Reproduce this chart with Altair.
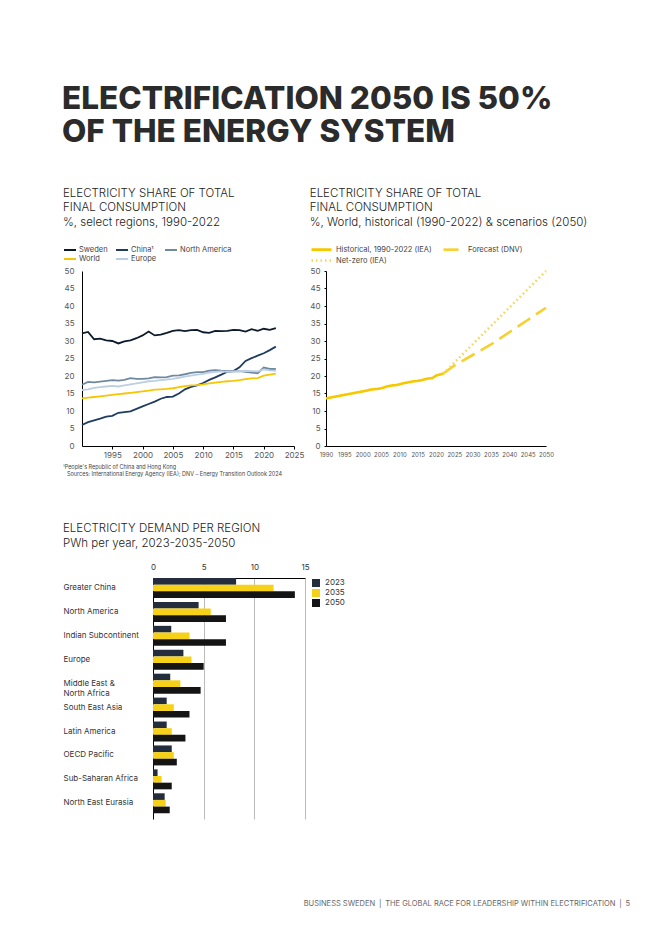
import altair as alt
import pandas as pd

FONT = "Inter"

# ---------------- data ----------------
years = list(range(1990, 2023))
sweden = [32.2, 32.6, 30.5, 30.7, 30.2, 30.0, 29.3, 29.9, 30.2, 30.8, 31.6, 32.7, 31.6, 31.8, 32.3, 32.9, 33.1,
          32.8, 33.1, 33.2, 32.5, 32.3, 32.9, 32.8, 32.9, 33.2, 33.1, 32.7, 33.4, 32.9, 33.5, 33.2, 33.7]
china = [6.0, 6.8, 7.3, 7.8, 8.4, 8.6, 9.5, 9.7, 9.9, 10.6, 11.3, 12.0, 12.7, 13.5, 14.0, 14.1, 15.0,
         16.2, 16.9, 17.3, 18.0, 18.9, 19.6, 20.4, 21.2, 21.4, 22.5, 24.3, 25.1, 25.8, 26.5, 27.4, 28.4]
north_america = [17.5, 18.3, 18.2, 18.4, 18.6, 18.8, 18.7, 18.9, 19.4, 19.2, 19.2, 19.3, 19.7, 19.6, 19.7, 20.1, 20.2,
                 20.5, 20.9, 21.1, 21.1, 21.5, 21.7, 21.5, 21.4, 21.3, 21.4, 21.2, 21.0, 20.8, 22.4, 22.0, 22.0]
europe = [16.0, 16.2, 16.6, 16.8, 17.0, 17.2, 17.0, 17.3, 17.6, 17.9, 18.2, 18.5, 18.6, 18.8, 19.0, 19.2, 19.5,
          19.8, 20.1, 20.4, 20.6, 21.0, 21.2, 21.3, 21.2, 21.3, 21.4, 21.5, 21.4, 21.3, 21.9, 21.6, 21.5]
world = [13.6, 13.8, 14.0, 14.2, 14.4, 14.6, 14.8, 15.0, 15.2, 15.4, 15.6, 15.8, 16.1, 16.2, 16.3, 16.5, 16.8,
         17.1, 17.3, 17.4, 17.6, 17.9, 18.1, 18.3, 18.5, 18.6, 18.8, 19.1, 19.3, 19.4, 20.1, 20.4, 20.7]

left_series = ["Sweden", "China¹", "North America", "World", "Europe"]
left_colors = ["#0c1a2b", "#1e3b60", "#7089a2", "#f6c600", "#bccfe2"]

forecast_years = [2022, 2025, 2030, 2035, 2040, 2045, 2050]
forecast_dnv = [20.7, 23.0, 26.0, 29.0, 32.5, 36.0, 39.5]
netzero_years = [2022, 2050]
netzero_iea = [20.7, 50.0]
right_series = ["Historical, 1990-2022 (IEA)", "Forecast (DNV)", "Net-zero (IEA)"]
right_colors = ["#f6c800", "#f7d02e", "#f7d54e"]

regions = ["Greater China", "North America", "Indian Subcontinent", "Europe", "Middle East & North Africa",
           "South East Asia", "Latin America", "OECD Pacific", "Sub-Saharan Africa", "North East Eurasia"]
demand_2023 = [8.2, 4.5, 1.8, 3.0, 1.7, 1.35, 1.35, 1.85, 0.45, 1.15]
demand_2035 = [11.9, 5.7, 3.6, 3.8, 2.7, 2.05, 1.85, 2.05, 0.85, 1.25]
demand_2050 = [14.0, 7.2, 7.2, 5.0, 4.7, 3.6, 3.2, 2.35, 1.85, 1.65]
bar_years = ["2023", "2035", "2050"]
bar_colors = ["#232d3e", "#f7d117", "#141414"]

main_title = ["ELECTRIFICATION 2050 IS 50%", "OF THE ENERGY SYSTEM"]
left_title = ["ELECTRICITY SHARE OF TOTAL", "FINAL CONSUMPTION", "%, select regions, 1990-2022"]
right_title = ["ELECTRICITY SHARE OF TOTAL", "FINAL CONSUMPTION",
               "%, World, historical (1990-2022) & scenarios (2050)"]
bar_title = ["ELECTRICITY DEMAND PER REGION", "PWh per year, 2023-2035-2050"]
footnote_1 = "¹People's Republic of China and Hong Kong"
footnote_2 = "Sources: International Energy Agency (IEA); DNV – Energy Transition Outlook 2024"
footer = "BUSINESS SWEDEN\u2002|\u2002THE GLOBAL RACE FOR LEADERSHIP WITHIN ELECTRIFICATION\u2002|\u20025"

# ---------------- tables ----------------
left_df = pd.DataFrame({
    "year": years * 5,
    "value": sweden + china + north_america + world + europe,
    "series": sum([[s] * len(years) for s in left_series], []),
})
right_df = pd.concat([
    pd.DataFrame({"year": years, "value": world, "series": right_series[0]}),
    pd.DataFrame({"year": forecast_years, "value": forecast_dnv, "series": right_series[1]}),
    pd.DataFrame({"year": netzero_years, "value": netzero_iea, "series": right_series[2]}),
])
bar_df = pd.DataFrame({
    "region": regions * 3,
    "year": sum([[y] * len(regions) for y in bar_years], []),
    "value": demand_2023 + demand_2035 + demand_2050,
})

TW = 175  # plot height of line charts

def title_params(lines, offset):
    return alt.TitleParams(text=lines, anchor="start", font=FONT, fontSize=11.5, fontWeight=300,
                           color="#222222", lineHeight=14.5, offset=offset)

# ---------------- left line chart ----------------
left_lines = alt.Chart(left_df).mark_line(strokeWidth=1.8).encode(
    x=alt.X("year:Q", scale=alt.Scale(domain=[1990, 2025], nice=False, zero=False),
            axis=alt.Axis(values=list(range(1995, 2026, 5)), format="d", title=None, grid=False,
                          domainColor="#000", tickColor="#000", tickSize=3, labelFontSize=8,
                          labelColor="#555", labelPadding=2, labelFont=FONT, labelOverlap=False,
                          labelFlush=False)),
    y=alt.Y("value:Q", scale=alt.Scale(domain=[0, 50], nice=False),
            axis=alt.Axis(values=list(range(0, 51, 5)), title=None, grid=False, ticks=False,
                          domainColor="#000", labelPadding=8, labelFontSize=8, labelColor="#555",
                          labelFont=FONT)),
    color=alt.Color("series:N", sort=left_series,
                    scale=alt.Scale(domain=left_series, range=left_colors),
                    legend=alt.Legend(title=None, orient="none", legendX=-19, legendY=-26, columns=3,
                                      direction="horizontal",
                                      symbolType="M-1,0H2", symbolSize=64, symbolStrokeWidth=2,
                                      labelFontSize=7.5, labelColor="#444", labelFont=FONT,
                                      columnPadding=4, rowPadding=0, labelOffset=6)),
)
fn1 = alt.Chart(pd.DataFrame({"t": [footnote_1]})).mark_text(
    align="left", baseline="middle", fontSize=5.5, color="#444", font=FONT
).encode(x=alt.value(-19), y=alt.value(TW + 21), text="t:N")
fn2 = alt.Chart(pd.DataFrame({"t": [footnote_2]})).mark_text(
    align="left", baseline="middle", fontSize=5.5, color="#444", font=FONT
).encode(x=alt.value(-15), y=alt.value(TW + 28), text="t:N")

left_chart = alt.layer(left_lines, fn1, fn2).properties(
    width=212, height=TW, title=title_params(left_title, 17))

# ---------------- right line chart ----------------
right_chart = alt.Chart(right_df).mark_line().encode(
    x=alt.X("year:Q", scale=alt.Scale(domain=[1990, 2050], nice=False, zero=False),
            axis=alt.Axis(values=list(range(1990, 2051, 5)), format="d", title=None, grid=False,
                          domainColor="#000", ticks=False, labelFontSize=6, labelColor="#555",
                          labelPadding=5, labelFont=FONT, labelOverlap=False, labelFlush=False)),
    y=alt.Y("value:Q", scale=alt.Scale(domain=[0, 50], nice=False),
            axis=alt.Axis(values=list(range(0, 51, 5)), title=None, grid=False, tickSize=2,
                          tickColor="#000", domainColor="#000", labelPadding=4, labelFontSize=8,
                          labelColor="#555", labelFont=FONT)),
    color=alt.Color("series:N", sort=right_series,
                    scale=alt.Scale(domain=right_series, range=right_colors),
                    legend=alt.Legend(title=None, orient="none", legendX=-16, legendY=-27, columns=2,
                                      direction="horizontal",
                                      symbolType="M-1,0H4", symbolSize=64, labelFontSize=7.5,
                                      labelColor="#444", labelFont=FONT, columnPadding=6,
                                      rowPadding=0, labelOffset=15)),
    strokeDash=alt.StrokeDash("series:N", sort=right_series,
                              scale=alt.Scale(domain=right_series, range=[[1, 0], [15, 7], [1.5, 3]])),
    strokeWidth=alt.StrokeWidth("series:N", sort=right_series,
                                scale=alt.Scale(domain=right_series, range=[2.6, 2.6, 1.6])),
).properties(width=220, height=TW, title=title_params(right_title, 16))

# ---------------- bar chart ----------------
bar_main = alt.Chart(bar_df).mark_bar().encode(
    y=alt.Y("region:N", sort=regions,
            scale=alt.Scale(paddingInner=0.165, paddingOuter=0.12, align=0),
            axis=alt.Axis(title=None, labelAlign="left", labelPadding=90, ticks=False, domainColor="#000",
                          labelFontSize=8, labelColor="#333", labelFont=FONT, labelLimit=200,
                          labelExpr="datum.label == 'Middle East & North Africa' ? ['Middle East &', 'North Africa'] : datum.label")),
    yOffset=alt.YOffset("year:N", sort=bar_years),
    x=alt.X("value:Q", scale=alt.Scale(domain=[0, 15], nice=False),
            axis=alt.Axis(orient="top", values=[0, 5, 10, 15], title=None, grid=True, gridColor="#bbbbbb",
                          ticks=False, domainColor="#000", labelFontSize=8, labelColor="#333",
                          labelPadding=7, labelFont=FONT, labelFlush=False)),
    color=alt.Color("year:N", sort=bar_years, scale=alt.Scale(domain=bar_years, range=bar_colors),
                    legend=alt.Legend(title=None, orient="none", legendX=158, legendY=0,
                                      symbolType="square", symbolSize=64, labelFontSize=8,
                                      labelColor="#333", labelFont=FONT, rowPadding=1, labelOffset=4)),
)
foot = alt.Chart(pd.DataFrame({"t": [footer]})).mark_text(
    align="right", baseline="middle", fontSize=7.5, color="#666", font=FONT
).encode(x=alt.value(477), y=alt.value(326), text="t:N")

bar_chart = alt.layer(bar_main, foot).properties(
    width=152, height=241,
    title=alt.TitleParams(text=bar_title, anchor="start", font=FONT, fontSize=11.5, fontWeight=300,
                          color="#222222", lineHeight=14.5, offset=14))

# zero-extent spacer so that each row is aligned by its left edge, not by its plot origin
spacer = alt.Chart(pd.DataFrame({"s": [0]})).mark_point(opacity=0, size=0).encode(
    x=alt.value(0), y=alt.value(0)).properties(width=1, height=1)

line_pair = alt.hconcat(left_chart, right_chart, spacing=5).resolve_scale(
    color="independent", strokeDash="independent", strokeWidth="independent")
top_row = alt.hconcat(spacer, line_pair, spacing=0).resolve_scale(
    color="independent", strokeDash="independent", strokeWidth="independent")
bar_row = alt.hconcat(spacer, bar_chart, spacing=0).resolve_scale(color="independent")

chart = alt.vconcat(
    top_row,
    bar_row,
    spacing=45,
).properties(
    title=alt.TitleParams(text=main_title, anchor="start", font=FONT, fontSize=31.5, fontWeight=800,
                          color="#2b2b2b", lineHeight=33, offset=39),
    padding={"left": 54, "top": 76, "right": 5, "bottom": 5},
).configure_view(stroke=None).resolve_scale(color="independent")

chart.save("out.html", embed_options={"renderer": "svg", "actions": False})
